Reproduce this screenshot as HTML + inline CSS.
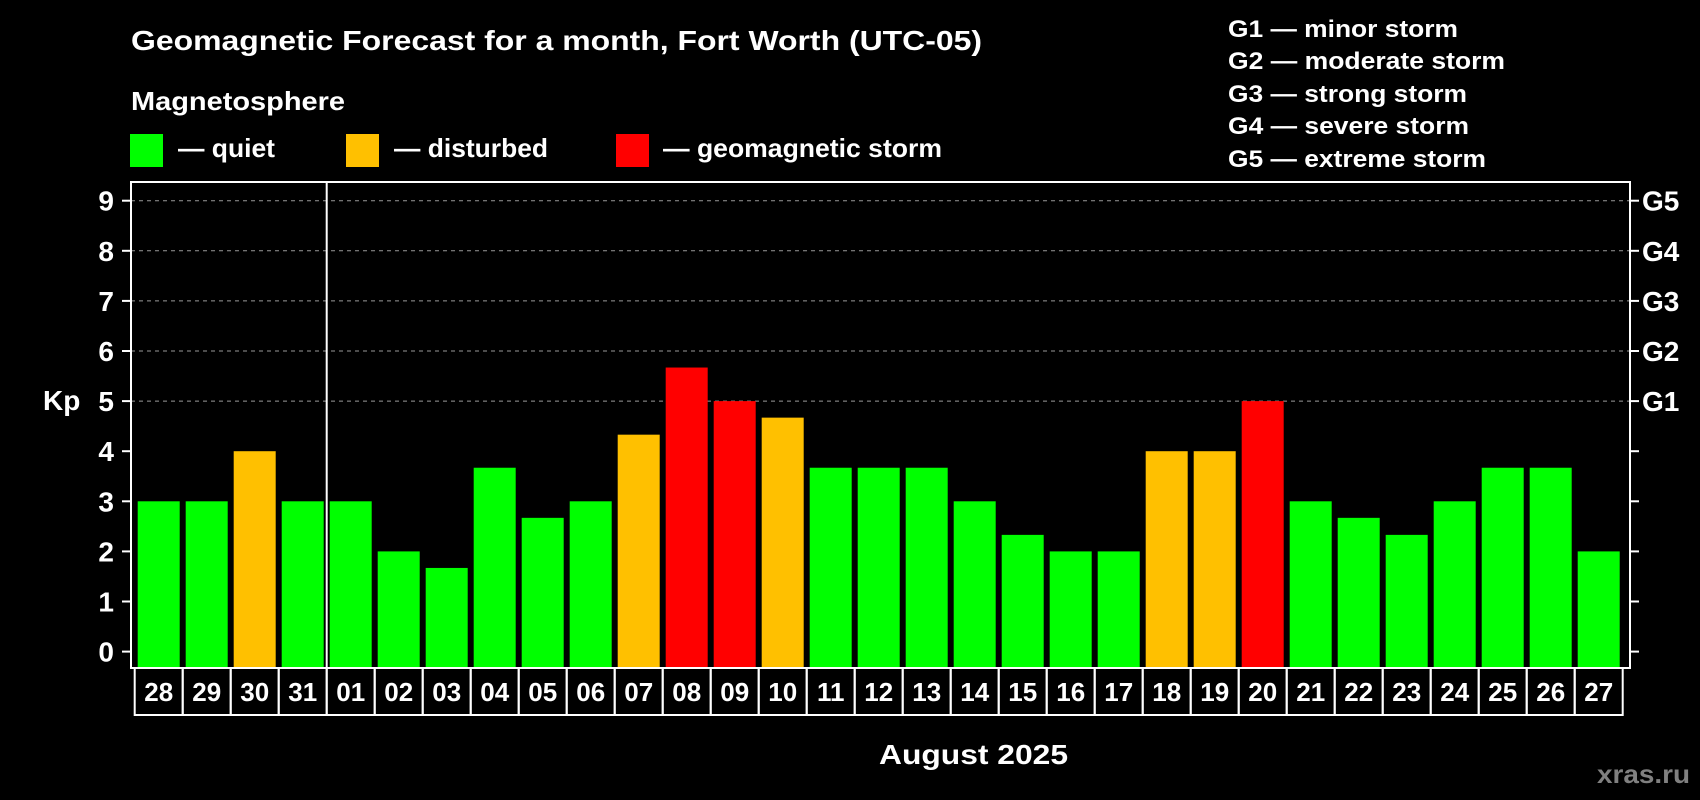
<!DOCTYPE html>
<html><head><meta charset="utf-8"><style>
html,body{margin:0;padding:0;background:#000;}
svg{display:block;font-family:"Liberation Sans",Arial,sans-serif;font-weight:bold;}
</style></head><body>
<svg id="chart" width="1700" height="800" viewBox="0 0 1700 800">
<rect x="0" y="0" width="1700" height="800" fill="#000"/>
<text x="131" y="50" font-size="28" fill="#fff" textLength="851" lengthAdjust="spacingAndGlyphs">Geomagnetic Forecast for a month, Fort Worth (UTC-05)</text>
<text x="131" y="110" font-size="26" fill="#fff" textLength="214" lengthAdjust="spacingAndGlyphs">Magnetosphere</text>
<g>
<rect x="130" y="134" width="33" height="33" fill="#00ff00"/>
<text x="178" y="157" font-size="26" fill="#fff" textLength="97" lengthAdjust="spacingAndGlyphs">— quiet</text></g>
<g>
<rect x="346" y="134" width="33" height="33" fill="#ffc000"/>
<text x="394" y="157" font-size="26" fill="#fff" textLength="154" lengthAdjust="spacingAndGlyphs">— disturbed</text></g>
<g>
<rect x="616" y="134" width="33" height="33" fill="#ff0000"/>
<text x="663" y="157" font-size="26" fill="#fff" textLength="279" lengthAdjust="spacingAndGlyphs">— geomagnetic storm</text></g>
<g font-size="24" fill="#fff">
<text x="1228" y="37" textLength="230" lengthAdjust="spacingAndGlyphs">G1 — minor storm</text>
<text x="1228" y="69" textLength="277" lengthAdjust="spacingAndGlyphs">G2 — moderate storm</text>
<text x="1228" y="102" textLength="239" lengthAdjust="spacingAndGlyphs">G3 — strong storm</text>
<text x="1228" y="134" textLength="241" lengthAdjust="spacingAndGlyphs">G4 — severe storm</text>
<text x="1228" y="167" textLength="258" lengthAdjust="spacingAndGlyphs">G5 — extreme storm</text>
</g>
<text x="43" y="410" font-size="28" fill="#fff">Kp</text>
<text x="879" y="764" font-size="28" fill="#fff" textLength="189" lengthAdjust="spacingAndGlyphs">August 2025</text>
<text x="1597" y="783" font-size="26" fill="#808080" textLength="93" lengthAdjust="spacingAndGlyphs">xras.ru</text>
<g id="plot"></g>
</svg>
<script>
const days = ["28","29","30","31","01","02","03","04","05","06","07","08","09","10","11","12","13","14","15","16","17","18","19","20","21","22","23","24","25","26","27"];
const kpValues = [3,3,4,3,3,2,1.67,3.67,2.67,3,4.33,5.67,5,4.67,3.67,3.67,3.67,3,2.33,2,2,4,4,5,3,2.67,2.33,3,3.67,3.67,2];
const yTicks = [0,1,2,3,4,5,6,7,8,9];
const gLabels = ["G1","G2","G3","G4","G5"];
const gLevels = [5,6,7,8,9];

const NS = "http://www.w3.org/2000/svg";
const plot = document.getElementById("plot");
const L = 131, R = 1630, T = 182, B = 668;
const y0 = 651.6, unit = 50.1;
const yScale = v => y0 - v * unit;
const barStart = 137.7, step = 48, bw = 42;
const xScale = i => barStart + i * step;
function mk(tag, attrs){ const e = document.createElementNS(NS, tag); for (const k in attrs) e.setAttribute(k, attrs[k]); plot.appendChild(e); return e; }
function color(v){ return v >= 5 ? "#ff0000" : (v >= 4 ? "#ffc000" : "#00ff00"); }

// grid
gLevels.forEach(v => {
  const ln = mk("line", {x1:L, x2:R, y1:yScale(v), y2:yScale(v), stroke:"#999", "stroke-width":1, "stroke-dasharray":"4,4"});
  
  
});
// bars
kpValues.forEach((v, i) => {
  const top = yScale(v);
  const r = mk("rect", {x:xScale(i), y:top, width:bw, height:B - top, fill:color(v)});
  
  
});
// month separator
const sep = mk("line", {x1:xScale(4)-3, x2:xScale(4)-3, y1:T, y2:B, stroke:"#fff", "stroke-width":2});


// frame
const fr = mk("rect", {x:L, y:T, width:R-L, height:B-T, fill:"none", stroke:"#fff", "stroke-width":2});


// y ticks
yTicks.forEach(v => {
  const y = yScale(v);
  const t1 = mk("line", {x1:L-9, x2:L, y1:y, y2:y, stroke:"#fff", "stroke-width":2});
  
  
  const t2 = mk("line", {x1:R, x2:R+9, y1:y, y2:y, stroke:"#fff", "stroke-width":2});
  
  
  const tx = mk("text", {x:114, y:y+10, "font-size":28, fill:"#fff", "text-anchor":"end"});
  tx.textContent = v;
  
  
});
gLevels.forEach((v, i) => {
  const tx = mk("text", {x:1642, y:yScale(v)+10, "font-size":28, fill:"#fff"});
  tx.textContent = gLabels[i];
  
  
});
// date cells
days.forEach((d, i) => {
  const cx = xScale(i) - 3;
  const c = mk("rect", {x:cx, y:B, width:step, height:47, fill:"none", stroke:"#fff", "stroke-width":2});
  
  
  const tx = mk("text", {x:cx + step/2, y:B+33, "font-size":26, fill:"#fff", "text-anchor":"middle"});
  tx.textContent = d;
  
  
});
</script>
</body></html>
